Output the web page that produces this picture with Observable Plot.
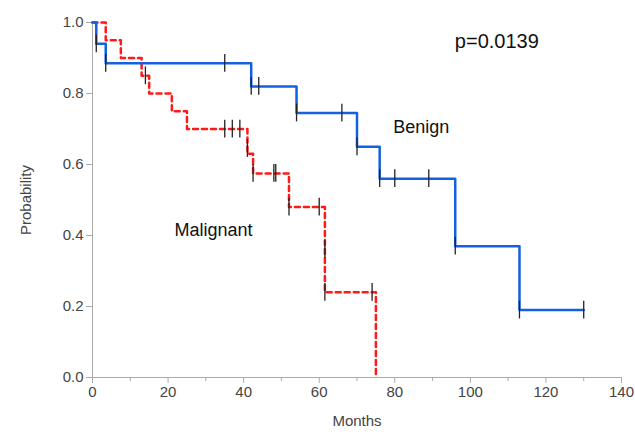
<!DOCTYPE html>
<html><head><meta charset="utf-8">
<script src="https://cdn.jsdelivr.net/npm/d3@7"></script>
<script src="https://cdn.jsdelivr.net/npm/@observablehq/plot@0.6"></script>
<style>body{margin:0;background:#fff;font-family:"Liberation Sans",Arial,sans-serif}</style>
</head><body><div id="c"></div>
<script>
const benignT = [0, 1, 3.5, 42, 54, 70, 76, 96, 113, 130];
const benignS = [1.0, 0.94, 0.885, 0.82, 0.745, 0.65, 0.56, 0.37, 0.19, 0.19];
const benignCensT = [1, 3.5, 35, 42, 44, 54, 66, 70, 76, 80, 89, 96, 113, 130];
const benignCensS = [0.94, 0.885, 0.885, 0.82, 0.82, 0.745, 0.745, 0.65, 0.56, 0.56, 0.56, 0.37, 0.19, 0.19];
const malT = [0, 3.5, 7.5, 13, 15, 21, 25, 41, 42.5, 52, 61.5, 75];
const malS = [1.0, 0.95, 0.90, 0.85, 0.80, 0.75, 0.70, 0.63, 0.575, 0.48, 0.24, 0.0];
const malCensT = [14, 35, 37, 39, 41, 42.5, 48, 48.5, 52, 60, 61.5, 61.5, 74];
const malCensS = [0.85, 0.70, 0.70, 0.70, 0.645, 0.575, 0.575, 0.575, 0.48, 0.48, 0.36, 0.24, 0.24];
const xTicks = [0, 20, 40, 60, 80, 100, 120, 140];
const xMinor = [10, 30, 50, 70, 90, 110, 130];
const yTicks = [0, 0.2, 0.4, 0.6, 0.8, 1.0];

function steps(t, s) {
  const out = [];
  for (let i = 0; i < t.length; i++) {
    if (i > 0) out.push({x: t[i], y: s[i - 1]});
    out.push({x: t[i], y: s[i]});
  }
  return out;
}
const bLine = steps(benignT, benignS);
const mLine = steps(malT, malS);
const cens = [
  ...benignCensT.map((t, i) => ({x: t, y: benignCensS[i]})),
  ...malCensT.map((t, i) => ({x: t, y: malCensS[i]}))
];

const chart = Plot.plot({
  width: 635, height: 434,
  marginLeft: 92, marginRight: 14, marginTop: 22, marginBottom: 57,
  style: {fontFamily: "Liberation Sans, Arial, sans-serif", fontSize: "14px", color: "#333"},
  x: {type: "linear", domain: [0, 140]},
  y: {type: "linear", domain: [0, 1]},
  marks: [
    Plot.axisX({ticks: xTicks, tickSize: 6, stroke: "#aaa", fill: "#444", fontSize: 15, label: "Months", labelAnchor: "center", labelArrow: "none", labelOffset: 48}),
    Plot.axisX({ticks: xMinor, tickSize: 4, stroke: "#aaa", text: null, label: null}),
    Plot.axisY({ticks: yTicks, tickSize: 6, stroke: "#aaa", fill: "#444", fontSize: 15, tickFormat: d3.format(".1f"), label: "Probability", labelAnchor: "center", labelArrow: "none", labelOffset: 72}),
    Plot.ruleY([0], {stroke: "#aaa"}),
    Plot.ruleX([0], {stroke: "#aaa"}),
    Plot.line(mLine, {x: "x", y: "y", stroke: "#ff1a1a", strokeWidth: 2.5, strokeDasharray: "5,4"}),
    Plot.line(bLine, {x: "x", y: "y", stroke: "#1560e0", strokeWidth: 2.5}),
    Plot.ruleX(cens, {x: "x", y1: d => d.y - 0.025, y2: d => d.y + 0.025, stroke: "#222", strokeWidth: 1.3}),
    Plot.text(["p=0.0139"], {x: 107, y: 0.945, fontSize: 20, fill: "#111"}),
    Plot.text(["Benign"], {x: 87, y: 0.705, fontSize: 18, fill: "#111"}),
    Plot.text(["Malignant"], {x: 32, y: 0.415, fontSize: 18, fill: "#111"})
  ]
});
document.getElementById("c").appendChild(chart);
</script></body></html>
